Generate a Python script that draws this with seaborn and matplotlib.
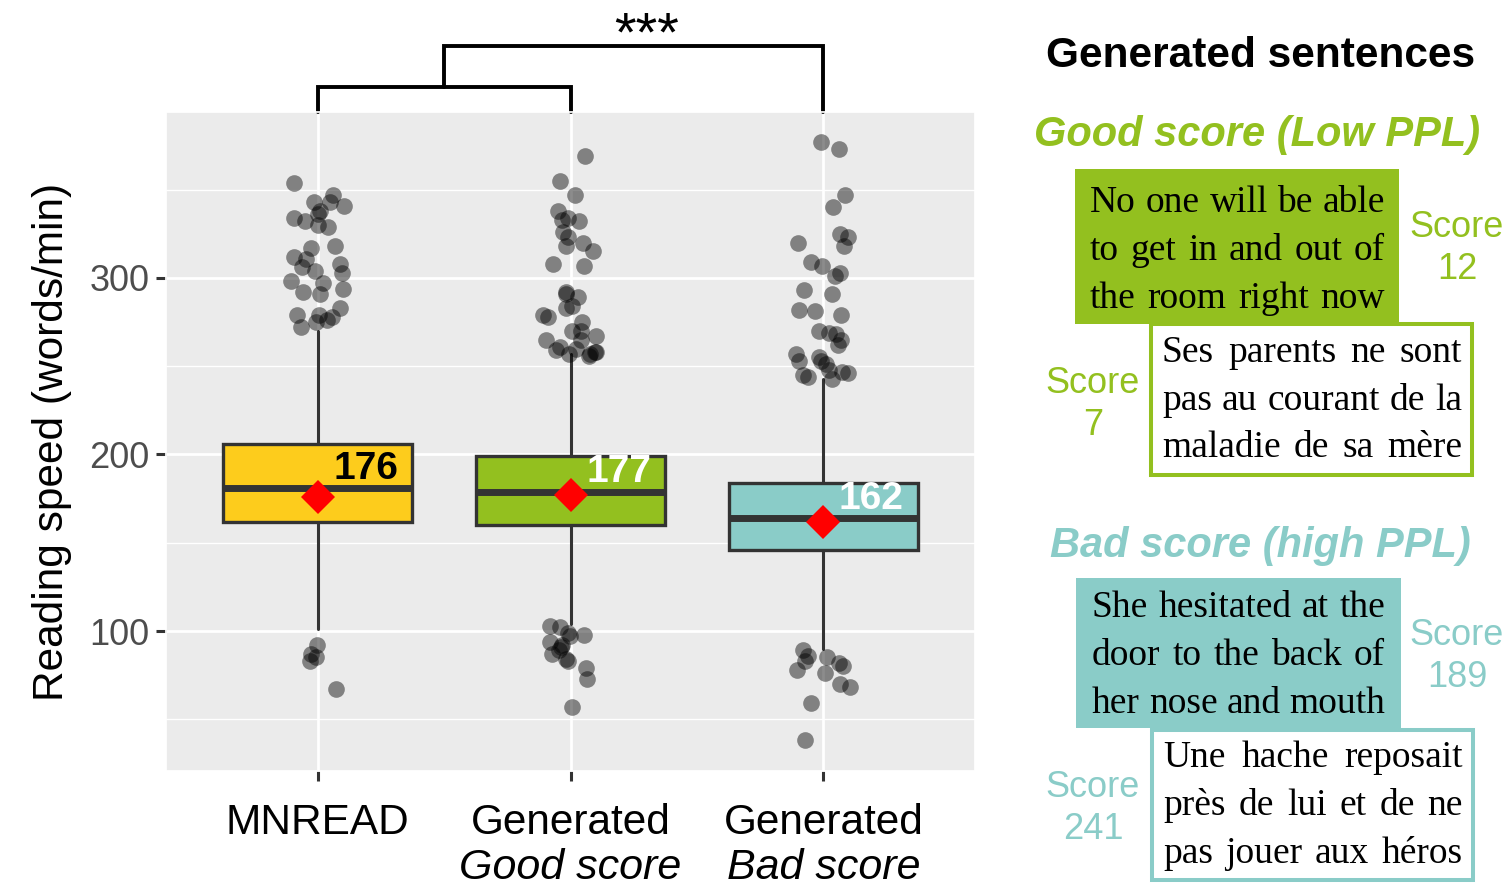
import numpy as np
import pandas as pd
import matplotlib
matplotlib.use("Agg")
import matplotlib.pyplot as plt
import matplotlib.transforms as mtransforms
from matplotlib.patches import Rectangle
import seaborn as sns

# --- data ---
groups = ["MNREAD", "Generated Good score", "Generated Bad score"]
tick_line1 = ["MNREAD", "Generated", "Generated"]
tick_line2 = ["", "Good score", "Bad score"]
box_colors = ["#FDCC1C", "#93C01F", "#8ACCC8"]
label_colors = ["black", "white", "white"]

q1 = [162, 160, 146]
median = [181, 179, 164]
q3 = [206, 199, 184]
whisker_lo = [101, 104, 90]
whisker_hi = [270, 257, 243]
means = [176, 177, 162]

mnread_pts = [354, 347, 343, 343, 341, 338, 336, 334, 332, 330, 329, 318, 317, 312,
              311, 308, 306, 304, 303, 298, 297, 294, 292, 291, 283, 279, 279, 278,
              276, 275, 272, 92, 87, 85, 83, 67]
good_pts = [369, 355, 347, 338, 334, 333, 332, 326, 323, 320, 318, 315, 308, 307,
            292, 291, 289, 284, 283, 279, 278, 275, 270, 270, 267, 265, 265, 261,
            260, 259, 258, 258, 257, 257, 256, 103, 102, 99, 98, 97, 94, 92, 91,
            89, 87, 84, 83, 79, 73, 57]
bad_pts = [377, 373, 347, 340, 325, 323, 320, 318, 309, 307, 303, 301, 293, 291,
           282, 281, 279, 270, 269, 268, 265, 262, 257, 255, 253, 253, 251, 248,
           247, 246, 245, 244, 243, 89, 86, 85, 83, 82, 80, 78, 76, 70, 68, 59, 38]

good_sentences = ["No one will be able", "to get in and out of", "the room right now"]
good_fr = ["Ses parents ne sont", "pas au courant de la", "maladie de sa mère"]
bad_sentences = ["She hesitated at the", "door to the back of", "her nose and mouth"]
bad_fr = ["Une hache reposait", "près de lui et de ne", "pas jouer aux héros"]
scores = ["12", "7", "189", "241"]

GREEN = "#93C01F"
TEAL = "#8ACCC8"
DARK = "#333333"

df = pd.concat([
    pd.DataFrame({"group": g, "speed": pts})
    for g, pts in zip(groups, [mnread_pts, good_pts, bad_pts])
])

sns.set_theme(style="darkgrid", rc={"axes.facecolor": "#EBEBEB", "grid.color": "white",
                                    "text.color": "black", "axes.labelcolor": "black"})
plt.rcParams["font.family"] = ["Liberation Sans", "DejaVu Sans"]

W, H = 1512, 893
fig = plt.figure(figsize=(W / 100, H / 100), dpi=100)
ax = fig.add_axes([166 / W, 1 - 771 / H, (975 - 166) / W, (771 - 112) / H])


def fx(px):
    return px / W


def fy(py):
    return 1 - py / H


# boxes
stats = [dict(label=g, q1=a, med=m, q3=b, whislo=lo, whishi=hi, fliers=[])
         for g, a, m, b, lo, hi in zip(groups, q1, median, q3, whisker_lo, whisker_hi)]
bp = ax.bxp(stats, positions=range(len(groups)), widths=0.75, patch_artist=True,
            showcaps=False, showfliers=False,
            boxprops=dict(edgecolor=DARK, linewidth=2.4),
            medianprops=dict(color=DARK, linewidth=5, solid_capstyle="butt"),
            whiskerprops=dict(color=DARK, linewidth=2.2), zorder=2)
for patch, c in zip(bp["boxes"], box_colors):
    patch.set_facecolor(c)

# jittered points
np.random.seed(7)
sns.stripplot(data=df, x="group", y="speed", order=groups, jitter=0.11, size=12,
              color="black", alpha=0.45, linewidth=0, ax=ax, zorder=3)

# mean diamonds
sns.pointplot(x=groups, y=means, order=groups, markers="D", linestyles="none",
              color="red", markersize=17, markeredgewidth=0, errorbar=None,
              ax=ax, zorder=4)

for i, (m, md, c) in enumerate(zip(means, median, label_colors)):
    ax.text(i + 0.19, md + 11, f"{m}", ha="center", va="center", fontsize=28,
            fontweight="bold", color=c, zorder=5)

ax.set_xlim(-0.6, 2.6)
ax.set_ylim(20.7, 394)
ax.set_yticks([100, 200, 300])
ax.set_yticks([50, 150, 250, 350], minor=True)
ax.grid(which="major", color="white", linewidth=2)
ax.grid(which="minor", axis="y", color="white", linewidth=1)
ax.set_xticks(range(len(groups)))
ax.set_xticklabels(tick_line1, fontsize=30.5, color="black")
ax.tick_params(axis="x", which="major", length=7, width=2.2, color=DARK, bottom=True, pad=16)
ax.tick_params(axis="y", which="major", length=7, width=2.2, color=DARK, left=True,
               labelsize=26, labelcolor="#4D4D4D", pad=5)
ax.tick_params(which="minor", length=0)
ax.set_xlabel("")
ax.set_ylabel("Reading speed (words/min)", fontsize=30.5, va="center", color="black")
ax.yaxis.set_label_coords(-0.141, 0.5)

blend = mtransforms.blended_transform_factory(ax.transData, fig.transFigure)
for i, t in enumerate(tick_line2):
    ax.text(i, fy(879), t, transform=blend, ha="center", va="baseline",
            fontsize=31, style="italic", color="black")

# significance brackets (above the panel)
lw = 2.8
ax.plot([0, 0, 1, 1], [394, 408, 408, 394], color="black", lw=lw, clip_on=False,
        solid_joinstyle="miter")
ax.plot([0.5, 0.5, 2, 2], [408, 431.5, 431.5, 394], color="black", lw=lw,
        clip_on=False, solid_joinstyle="miter")
ax.text(1.3, 429, "***", ha="center", va="baseline", fontsize=40, color="black",
        clip_on=False)

# --- right hand side: example sentences ---
serif = ["Liberation Serif", "DejaVu Serif"]
renderer = fig.canvas.get_renderer()


def justify(lines, x0, x1, baselines, size=27):
    for line, y in zip(lines, baselines):
        words = line.split()
        ts = [fig.text(0, fy(y), w, va="baseline", fontsize=size, family=serif,
                       color="black") for w in words]
        widths = [t.get_window_extent(renderer).width / W for t in ts]
        gap = (fx(x1) - fx(x0) - sum(widths)) / (len(words) - 1)
        x = fx(x0)
        for t, w in zip(ts, widths):
            t.set_x(x)
            x += w + gap


def box(x0, y0, x1, y1, face, edge):
    fig.add_artist(Rectangle((fx(x0), fy(y1)), fx(x1) - fx(x0), fy(y0) - fy(y1),
                             transform=fig.transFigure, facecolor=face,
                             edgecolor=edge, linewidth=2.9))


fig.text(fx(1261), fy(67), "Generated sentences", ha="center", va="baseline",
         fontsize=30.5, fontweight="bold", color="black")
fig.text(fx(1257), fy(146), "Good score (Low PPL)", ha="center", va="baseline",
         fontsize=30, fontweight="bold", style="italic", color=GREEN)
fig.text(fx(1260), fy(557), "Bad score (high PPL)", ha="center", va="baseline",
         fontsize=30, fontweight="bold", style="italic", color=TEAL)

box(1075, 169, 1399, 324, GREEN, "none")
box(1151, 324, 1472, 475, "white", GREEN)
box(1076, 578, 1401, 728, TEAL, "none")
box(1152, 730, 1473, 880, "white", TEAL)

justify(good_sentences, 1090, 1385, [212, 260, 308])
justify(good_fr, 1162, 1462, [362, 410, 457])
justify(bad_sentences, 1092, 1385, [617, 665, 713])
justify(bad_fr, 1163, 1463, [767, 815, 863])

score_pos = [(1457, 237, GREEN), (1093, 393, GREEN), (1457, 645, TEAL), (1093, 797, TEAL)]
for s, (x, y, c) in zip(scores, score_pos):
    fig.text(fx(x), fy(y), "Score", ha="center", va="baseline", fontsize=26, color=c)
    fig.text(fx(x), fy(y + 42), s, ha="center", va="baseline", fontsize=26, color=c)

fig.savefig("out.png", dpi=100)
